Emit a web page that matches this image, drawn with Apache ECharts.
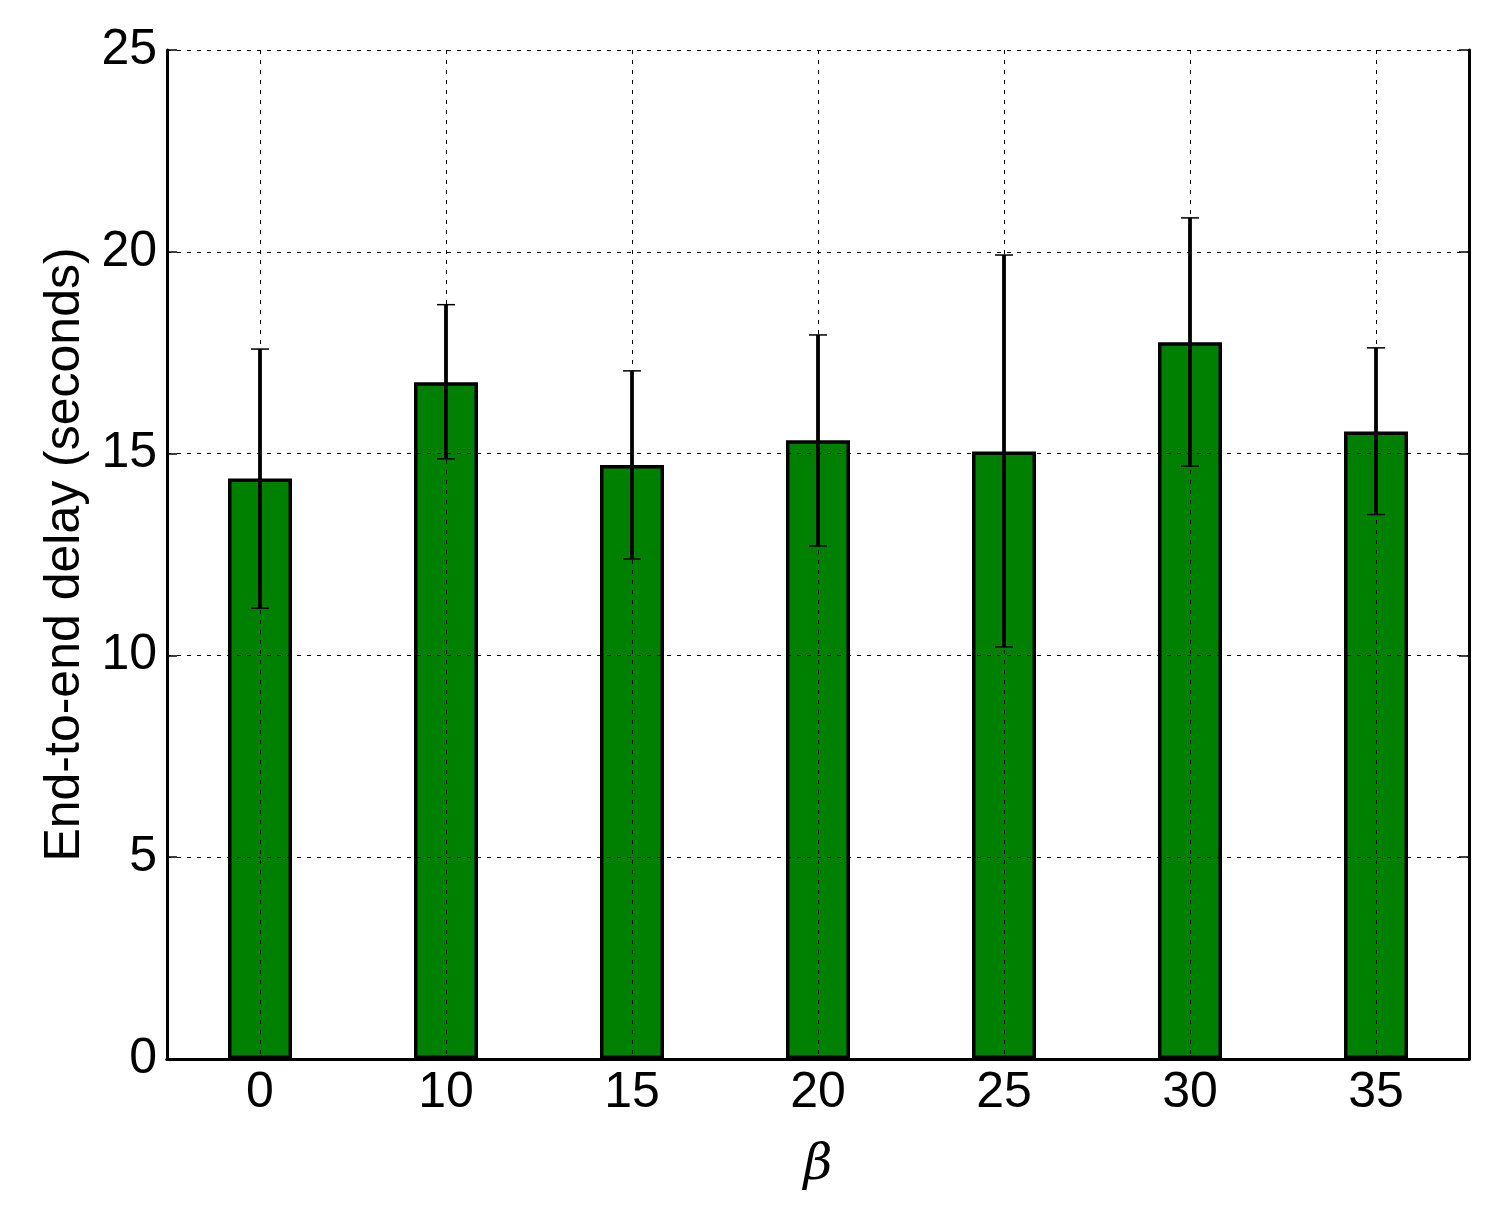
<!DOCTYPE html>
<html>
<head>
<meta charset="utf-8">
<script src="https://cdn.jsdelivr.net/npm/echarts@6/dist/echarts.min.js"></script>
<style>
html,body{margin:0;padding:0;background:#fff;}
#chart{width:1504px;height:1211px;}
</style>
</head>
<body>
<div id="chart"></div>
<script>
const categories = ['0', '10', '15', '20', '25', '30', '35'];
const means = [14.38, 16.77, 14.72, 15.33, 15.05, 17.76, 15.55];
const errLow = [11.17, 14.87, 12.39, 12.71, 10.21, 14.69, 13.49];
const errHigh = [17.59, 18.69, 17.05, 17.94, 19.92, 20.84, 17.62];
const yTicks = { min: 0, max: 25, interval: 5 };

const errData = categories.map((c, i) => [i, errLow[i], errHigh[i]]);

const FONT = 'Liberation Sans, Arial, sans-serif';
const chart = echarts.init(document.getElementById('chart'), null, { renderer: 'canvas' });

const gridDash = { color: '#000', width: 1, type: [4, 6] };

chart.setOption({
  animation: false,
  backgroundColor: '#fff',
  grid: { left: 167, right: 35, top: 50, bottom: 152 },
  xAxis: [
    {
      type: 'category', data: categories, position: 'bottom', z: 3,
      axisLine: { lineStyle: { color: '#000', width: 3 } },
      axisTick: { inside: true, alignWithLabel: true, length: 10, lineStyle: { color: '#000', width: 1.5 } },
      axisLabel: { color: '#000', fontSize: 50, fontFamily: FONT, margin: 9 },
      splitLine: { show: true, alignWithLabel: true, lineStyle: gridDash },
      name: 'β', nameLocation: 'middle', nameGap: 82,
      nameTextStyle: { fontFamily: 'DejaVu Serif, serif', fontStyle: 'italic', fontSize: 50, color: '#000' }
    },
    {
      type: 'category', data: categories, position: 'top', z: 3,
      axisLine: { lineStyle: { color: '#000', width: 3 } },
      axisTick: { inside: true, alignWithLabel: true, length: 10, lineStyle: { color: '#000', width: 1.5 } },
      axisLabel: { show: false }, splitLine: { show: false }
    }
  ],
  yAxis: [
    {
      type: 'value', min: yTicks.min, max: yTicks.max, interval: yTicks.interval, position: 'left', z: 3,
      axisLine: { show: true, lineStyle: { color: '#000', width: 3 } },
      axisTick: { show: true, inside: true, length: 10, lineStyle: { color: '#000', width: 1.5 } },
      axisLabel: { color: '#000', fontSize: 50, fontFamily: FONT, margin: 10 },
      splitLine: { show: true, lineStyle: gridDash },
      name: 'End-to-end delay (seconds)', nameLocation: 'middle', nameGap: 101, nameRotate: 90,
      nameTextStyle: { fontFamily: FONT, fontSize: 50, color: '#000', verticalAlign: 'middle' }
    },
    {
      type: 'value', min: yTicks.min, max: yTicks.max, interval: yTicks.interval, position: 'right', z: 3,
      axisLine: { show: true, lineStyle: { color: '#000', width: 3 } },
      axisTick: { show: true, inside: true, length: 10, lineStyle: { color: '#000', width: 1.5 } },
      axisLabel: { show: false }, splitLine: { show: false }
    }
  ],
  series: [
    {
      type: 'bar', data: means, barWidth: 64, z: 2,
      itemStyle: { color: '#008000', borderColor: '#000', borderWidth: 3.5 }
    },
    {
      type: 'custom', data: errData, z: 5,
      renderItem: function (params, api) {
        const x = api.value(0);
        const lo = api.coord([x, api.value(1)]);
        const hi = api.coord([x, api.value(2)]);
        const cap = 9;
        return {
          type: 'group',
          children: [
            { type: 'line', shape: { x1: lo[0], y1: lo[1], x2: hi[0], y2: hi[1] }, style: { stroke: '#000', lineWidth: 3.8 } },
            { type: 'line', shape: { x1: lo[0] - cap, y1: lo[1], x2: lo[0] + cap, y2: lo[1] }, style: { stroke: '#000', lineWidth: 1.5 } },
            { type: 'line', shape: { x1: hi[0] - cap, y1: hi[1], x2: hi[0] + cap, y2: hi[1] }, style: { stroke: '#000', lineWidth: 1.5 } }
          ]
        };
      }
    }
  ]
});
</script>
</body>
</html>
